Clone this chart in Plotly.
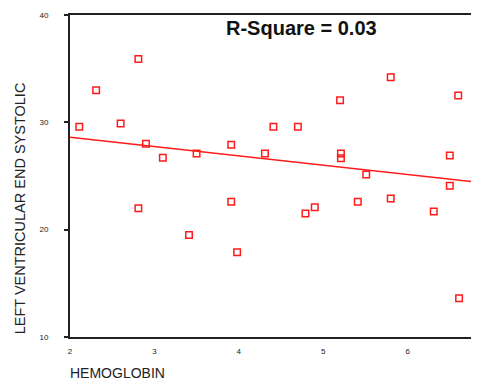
import plotly.graph_objects as go

hemoglobin = [2.11, 2.31, 2.60, 2.81, 2.81, 2.90, 3.10, 3.41, 3.50, 3.91, 3.91, 3.98,
              4.31, 4.41, 4.70, 4.79, 4.90, 5.20, 5.21, 5.21, 5.41, 5.51, 5.80, 5.80,
              6.31, 6.50, 6.50, 6.60, 6.61]
lves = [29.6, 33.0, 29.9, 35.9, 22.0, 28.0, 26.7, 19.5, 27.1, 27.9, 22.6, 17.9,
        27.1, 29.6, 29.6, 21.5, 22.1, 32.05, 27.1, 26.65, 22.6, 25.15, 34.2, 22.9,
        21.7, 26.9, 24.1, 32.5, 13.6]
fit_x = [2.0, 6.85]
fit_y = [28.6, 24.4]
x_ticks = [2, 3, 4, 5, 6]
y_ticks = [10, 20, 30, 40]

fig = go.Figure()
fig.add_trace(go.Scatter(x=fit_x, y=fit_y, mode="lines",
                         line=dict(color="#ff1a1a", width=1.5), showlegend=False,
                         hoverinfo="skip"))
fig.add_trace(go.Scatter(x=hemoglobin, y=lves, mode="markers",
                         marker=dict(symbol="square-open", size=6.5,
                                     color="#ff1a1a", line=dict(width=1.5, color="#ff1a1a")),
                         showlegend=False))

fig.update_layout(
    width=471, height=375,
    margin=dict(l=62, r=0, t=7, b=46),
    paper_bgcolor="white", plot_bgcolor="white",
    font=dict(family="Liberation Sans, Arial, sans-serif", color="#111"),
    xaxis=dict(range=[2, 6.846], tickvals=x_ticks, ticktext=[str(v) for v in x_ticks],
               showgrid=False, zeroline=False, showline=True, linecolor="#222",
               linewidth=2, mirror=True, ticks="", tickfont=dict(size=8, color="#222"),
               ticklabelstandoff=5),
    yaxis=dict(range=[10, 40], tickvals=y_ticks, ticktext=[str(v) for v in y_ticks],
               showgrid=False, zeroline=False, showline=True, linecolor="#222",
               linewidth=2, mirror=False, ticks="outside", ticklen=4, tickwidth=1.5,
               tickcolor="#222", tickfont=dict(size=8, color="#222"),
               ticklabelstandoff=14),
    annotations=[
        dict(text="<b>R-Square = 0.03</b>", xref="paper", yref="paper",
             x=0.567, y=0.96, showarrow=False, font=dict(size=20, color="#111"),
             xanchor="center", yanchor="middle"),
        dict(text="LEFT VENTRICULAR END SYSTOLIC", xref="paper", yref="paper",
             x=-0.122, y=0.40, textangle=-90, showarrow=False,
             font=dict(size=14.5, color="#222"), xanchor="center", yanchor="middle"),
        dict(text="HEMOGLOBIN", xref="paper", yref="paper",
             x=-0.005, y=-0.143, showarrow=False, font=dict(size=14, color="#222"),
             xanchor="left", yanchor="bottom"),
    ],
)

fig.write_html("out.html")
